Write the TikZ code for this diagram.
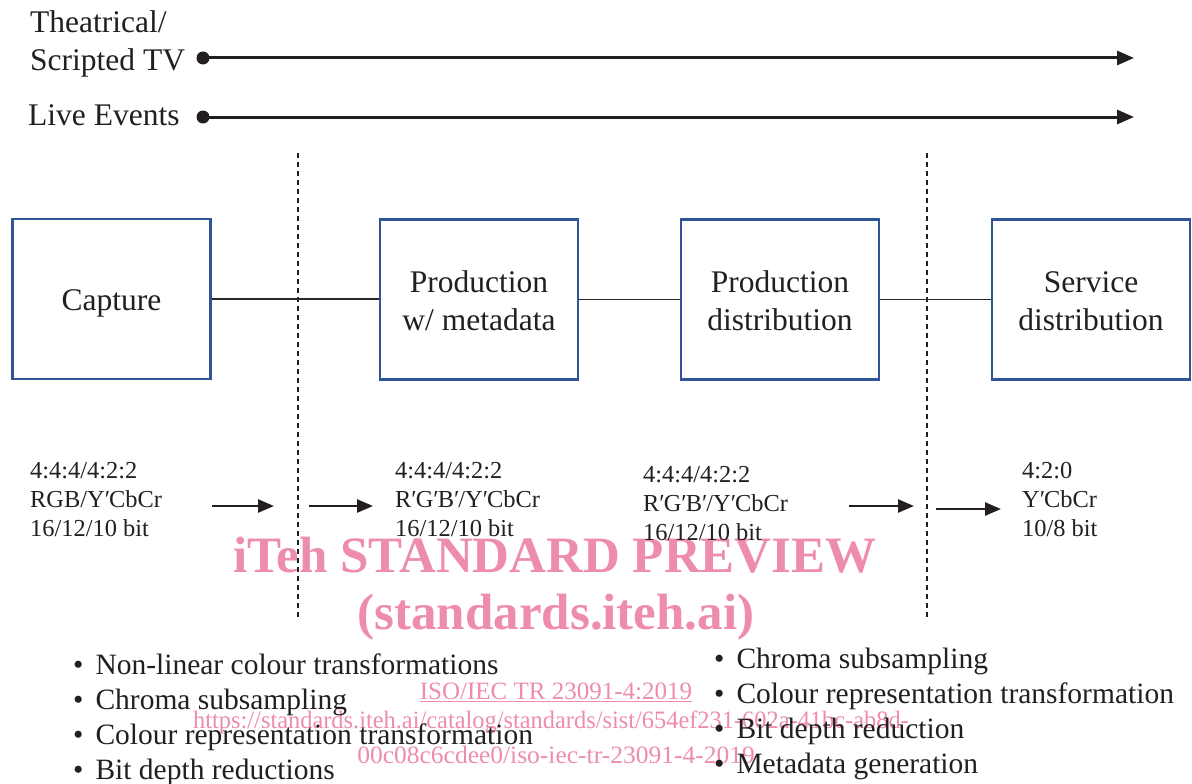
\documentclass[tikz,border=0pt]{standalone}
\usepackage{fontspec}
\setmainfont{Liberation Serif}
\usetikzlibrary{arrows.meta}
\definecolor{boxblue}{RGB}{47,85,151}
\definecolor{wmpink}{RGB}{238,140,171}
\definecolor{linkgrey}{RGB}{40,40,40}
\definecolor{ink}{RGB}{35,31,32}
\newcommand\prm{′\kern-1pt}
\newcommand\stagetext[1]{\raisebox{-4pt}[\height][\depth]{\begin{tabular}{@{}c@{}}#1\end{tabular}}}
\begin{document}
\begin{tikzpicture}[x=1pt,y=-1pt,
  stage/.style={draw=boxblue, line width=2.8pt, minimum width=198pt, minimum height=160pt, inner sep=0pt, align=center, font=\fontsize{31.5}{38}\selectfont, text=ink},
  big/.style={font=\fontsize{31.5}{38}\selectfont, inner sep=0pt, text=ink},
  small/.style={font=\fontsize{24.4}{29}\selectfont, inner sep=0pt, align=left, anchor=north west, text=ink},
  bul/.style={font=\fontsize{29.5}{35}\selectfont, inner sep=0pt, align=left, anchor=north west, text=ink},
  timeline/.style={line width=3pt, draw=ink, -{Triangle[length=17pt,width=14pt]}},
  flow/.style={line width=2.6pt, draw=ink, -{Triangle[length=16pt,width=13pt]}},
  link/.style={line width=1.2pt, draw=linkgrey},
  sep/.style={line width=1.1pt, draw=ink, dash pattern=on 5pt off 4pt},
  wm/.style={text=wmpink, inner sep=0pt}
]
\useasboundingbox (0,0) rectangle (1192,784);

% watermark
\node[wm, font=\bfseries\fontsize{51}{60}\selectfont] (wm1) at (555,555) {iTeh STANDARD PREVIEW};
\node[wm, font=\bfseries\fontsize{51}{60}\selectfont] (wm2) at (556,617) {(standards.iteh.ai)};
\node[wm, font=\fontsize{25}{30}\selectfont] (wm3) at (556,692) {\underline{ISO/IEC TR 23091-4:2019}};
\node[wm, font=\fontsize{25}{30}\selectfont] (wm4) at (551,722) {\scalebox{0.976}[1]{https://standards.iteh.ai/catalog/standards/sist/654ef231-602a-41bc-ab8d-}};
\node[wm, font=\fontsize{25}{30}\selectfont] (wm5) at (556,755) {\scalebox{1.02}[1]{00c08c6cdee0/iso-iec-tr-23091-4-2019}};

% timelines
\node[big, anchor=west, align=left] (tv) at (30,44) {Theatrical/\\Scripted TV};
\node[big, anchor=west] (live) at (28,115) {Live Events};
\coordinate (tvs) at (203,58);
\coordinate (tve) at (1134,58);
\coordinate (lvs) at (203,117);
\coordinate (lve) at (1134,117);
\draw[timeline] (tvs) -- (tve);
\draw[timeline] (lvs) -- (lve);
\fill[ink] (tvs) circle (6.5pt);
\fill[ink] (lvs) circle (6.5pt);

% separators
\coordinate (s1t) at (298,153);
\coordinate (s1b) at (298,617);
\coordinate (s2t) at (927,153);
\coordinate (s2b) at (927,617);
\draw[sep] (s1t) -- (s1b);
\draw[sep] (s2t) -- (s2b);

% stages
\node[stage] (capture) at (111.5,299) {\stagetext{Capture}};
\node[stage] (prodmeta) at (479,299.5) {\stagetext{Production\\w/ metadata}};
\node[stage] (proddist) at (780,299.5) {\stagetext{Production\\distribution}};
\node[stage] (service) at (1091,299.5) {\stagetext{Service\\distribution}};
\draw[link] (capture.east) -- (capture.east -| prodmeta.west);
\draw[link] (prodmeta.east) -- (proddist.west);
\draw[link] (proddist.east) -- (service.west);

% formats
\node[small] (f1) at (30,462) {4:4:4/4:2:2\\RGB/Y\prm CbCr\\16/12/10 bit};
\node[small] (f2) at (395,462) {4:4:4/4:2:2\\R\prm G\prm B\prm/Y\prm CbCr\\16/12/10 bit};
\node[small] (f3) at (643,466) {4:4:4/4:2:2\\R\prm G\prm B\prm/Y\prm CbCr\\16/12/10 bit};
\node[small] (f4) at (1022,462) {4:2:0\\Y\prm CbCr\\10/8 bit};

\coordinate (a1s) at (212,506); \coordinate (a1e) at (274,506);
\coordinate (a2s) at (309,506); \coordinate (a2e) at (373,506);
\coordinate (a3s) at (849,506); \coordinate (a3e) at (914,506);
\coordinate (a4s) at (936,509); \coordinate (a4e) at (1001,509);
\draw[flow] (a1s) -- (a1e);
\draw[flow] (a2s) -- (a2e);
\draw[flow] (a3s) -- (a3e);
\draw[flow] (a4s) -- (a4e);

% bullet lists
\node[bul] (b1) at (73,654) {\textbullet\hspace{12pt}Non-linear colour transformations\\
\textbullet\hspace{12pt}Chroma subsampling\\
\textbullet\hspace{12pt}Colour representation transformation\\
\textbullet\hspace{12pt}Bit depth reductions};
\node[bul] (b2) at (714,648) {\textbullet\hspace{12pt}Chroma subsampling\\
\textbullet\hspace{12pt}Colour representation transformation\\
\textbullet\hspace{12pt}Bit depth reduction\\
\textbullet\hspace{12pt}Metadata generation};
\end{tikzpicture}
\end{document}
